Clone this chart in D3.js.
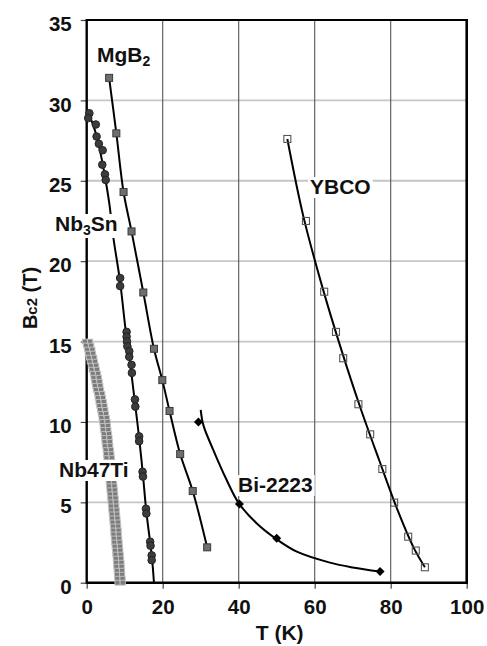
<!DOCTYPE html>
<html>
<head>
<meta charset="utf-8">
<script src="https://cdn.jsdelivr.net/npm/d3@7/dist/d3.min.js"></script>
<style>
  body { margin: 0; background: #fff; }
  svg text { font-family: "Liberation Sans", Arial, sans-serif; font-weight: bold; }
</style>
</head>
<body>
<svg width="487" height="646"></svg>
<script>
// values, T in K, Bc2 in T
var xTicks = [0, 20, 40, 60, 80, 100];
var yTicks = [0, 5, 10, 15, 20, 25, 30, 35];

var mgb2T = [5.9, 7.8, 9.7, 11.8, 14.9, 17.7, 19.9, 21.8, 24.6, 27.9, 31.7];
var mgb2B = [31.4, 27.95, 24.3, 21.85, 18.05, 14.55, 12.6, 10.68, 8.0, 5.7, 2.2];

var nb3snT = [0.7, 0.4, 2.4, 2.6, 3.2, 4.2, 4.1, 4.8, 5.0, 8.8, 8.8, 10.5, 10.5, 10.6, 10.7, 11.2, 11.2, 11.8, 11.9,
              12.7, 12.8, 13.8, 13.8, 14.7, 14.8, 15.6, 15.7, 16.7, 16.8, 17.1, 17.1];
var nb3snB = [29.2, 28.9, 28.5, 27.75, 27.3, 26.9, 26.0, 25.4, 25.05, 18.95, 18.45, 15.6, 15.3, 15.0, 14.7, 14.4, 14.05, 13.55, 13.05,
              11.4, 10.95, 9.1, 8.8, 6.9, 6.6, 4.6, 4.3, 2.55, 2.3, 1.7, 1.4];
var nb3snFitT = [0.4, 1.5, 2.8, 4.0, 5.0, 6.0, 7.0, 8.8, 10.2, 11.5, 12.8, 13.8, 14.8, 15.7, 16.7, 17.2, 17.7];
var nb3snFitB = [29.2, 28.6, 27.6, 26.3, 25.0, 23.5, 21.5, 18.7, 15.8, 13.5, 11.0, 9.0, 6.7, 4.4, 2.5, 1.5, 0];

var nb47tiB = [15, 14.75, 14.5, 14.25, 14, 13.75, 13.5, 13.25, 13, 12.75, 12.5, 12.25, 12, 11.75, 11.5, 11.25, 11, 10.75,
               10.5, 10.25, 10, 9.75, 9.5, 9.25, 9, 8.75, 8.5, 8.25, 8, 7.75, 7.5, 7.25, 7, 6.75, 6.5, 6.25, 6, 5.75,
               5.5, 5.25, 5, 4.75, 4.5, 4.25, 4, 3.75, 3.5, 3.25, 3, 2.75, 2.5, 2.25, 2, 1.75, 1.5, 1.25, 1, 0.75, 0.5, 0.25, 0];
var nb47tiT = [0.2, 0.5, 0.8, 1.0, 1.3, 1.5, 1.8, 2.0, 2.3, 2.5, 2.7, 2.9, 3.1, 3.4, 3.6, 3.8, 4.0, 4.2,
               4.4, 4.6, 4.8, 4.9, 5.0, 5.2, 5.3, 5.4, 5.5, 5.7, 5.8, 5.9, 6.0, 6.1, 6.2, 6.3, 6.4, 6.5, 6.6, 6.7,
               6.8, 6.9, 7.0, 7.1, 7.2, 7.3, 7.4, 7.5, 7.6, 7.7, 7.75, 7.85, 7.95, 8.05, 8.15, 8.25, 8.35, 8.45, 8.5, 8.6, 8.65, 8.75, 8.8];

var biT = [29.4, 40.2, 50.0, 77.2];
var biB = [10.0, 4.9, 2.76, 0.69];
var biFitT = [30.0, 30.7, 33.3, 36.8, 40.0, 44.7, 50.0, 55.3, 64.0, 70.0, 77.2];
var biFitB = [10.75, 9.8, 8.26, 6.4, 4.95, 3.7, 2.7, 1.93, 1.25, 0.95, 0.69];

var ybcoT = [52.8, 57.7, 62.5, 65.6, 67.5, 71.5, 74.6, 77.8, 80.9, 84.6, 86.6, 89.0];
var ybcoB = [27.6, 22.5, 18.1, 15.6, 13.96, 11.1, 9.23, 7.07, 4.98, 2.86, 2.0, 0.96];
var ybcoFitT = [52.8, 57.0, 62.0, 67.0, 72.0, 77.0, 82.0, 86.0, 89.0];
var ybcoFitB = [27.6, 22.8, 18.4, 14.5, 10.9, 7.6, 4.4, 2.2, 0.96];

function pairs(t, b) {
  return t.map(function(d, i) { return [d, b[i]]; });
}

var svg = d3.select("svg");
var pLeft = 86.7, pTop = 20, pRight = 466.7, pBottom = 582.7;

var x = d3.scaleLinear().domain([0, 100]).range([pLeft, pRight]);
var y = d3.scaleLinear().domain([0, 35]).range([pBottom, pTop]);

// grid
svg.append("g").selectAll("line")
  .data(yTicks.filter(function(d) { return d > 0 && d < 35; }))
  .enter().append("line")
  .attr("x1", pLeft).attr("x2", pRight)
  .attr("y1", function(d) { return y(d); }).attr("y2", function(d) { return y(d); })
  .attr("stroke", "#c6c6c6").attr("stroke-width", 1.8);

svg.append("g").selectAll("line")
  .data(xTicks.filter(function(d) { return d > 0 && d < 100; }))
  .enter().append("line")
  .attr("x1", function(d) { return x(d); }).attr("x2", function(d) { return x(d); })
  .attr("y1", pTop).attr("y2", pBottom)
  .attr("stroke", "#555").attr("stroke-width", 1.1);

// axes
var yAxis = d3.axisLeft(y).tickValues(yTicks).tickSize(6).tickPadding(9);
var xAxis = d3.axisBottom(x).tickValues(xTicks).tickSize(6).tickPadding(11);

var gy = svg.append("g").attr("transform", "translate(" + pLeft + ",0)").call(yAxis);
var gx = svg.append("g").attr("transform", "translate(0," + pBottom + ")").call(xAxis);
[gx, gy].forEach(function(g) {
  g.select(".domain").remove();
  g.selectAll(".tick line").attr("stroke", "#444").attr("stroke-width", 1.2);
  g.selectAll("text").attr("font-size", "20.5px").attr("fill", "#111")
   .style("font-family", "'Liberation Sans', Arial, sans-serif").style("font-weight", "bold");
});
gy.selectAll("text").attr("dy", "0.52em");

// frame
svg.append("line").attr("x1", pLeft).attr("x2", pRight).attr("y1", pTop).attr("y2", pTop)
  .attr("stroke", "#000").attr("stroke-width", 2.2);
svg.append("line").attr("x1", pRight).attr("x2", pRight).attr("y1", pTop - 1).attr("y2", pBottom + 1)
  .attr("stroke", "#000").attr("stroke-width", 2.6);
svg.append("line").attr("x1", pLeft).attr("x2", pRight + 1).attr("y1", pBottom).attr("y2", pBottom)
  .attr("stroke", "#000").attr("stroke-width", 2.4);
svg.append("line").attr("x1", pLeft).attr("x2", pLeft).attr("y1", pTop - 1).attr("y2", pBottom + 1)
  .attr("stroke", "#000").attr("stroke-width", 2.4);

// axis titles
svg.append("text").attr("x", (pLeft + pRight) / 2 + 3).attr("y", 640)
  .attr("text-anchor", "middle").attr("font-size", "21px").attr("fill", "#111").text("T (K)");

var yl = svg.append("text").attr("transform", "translate(37,298) rotate(-90)")
  .attr("text-anchor", "middle").attr("font-size", "20px").attr("fill", "#111");
yl.append("tspan").text("B");
yl.append("tspan").attr("font-size", "15px").text("c2");
yl.append("tspan").text(" (T)");

// curves
var line = d3.line().x(function(d) { return x(d[0]); }).y(function(d) { return y(d[1]); })
  .curve(d3.curveCatmullRom.alpha(0.5));

var curves = [pairs(mgb2T, mgb2B), pairs(nb3snFitT, nb3snFitB), pairs(biFitT, biFitB), pairs(ybcoFitT, ybcoFitB)];
svg.append("g").selectAll("path")
  .data(curves)
  .enter().append("path")
  .attr("d", line)
  .attr("fill", "none").attr("stroke", "#000").attr("stroke-width", 2);

// Nb47Ti stacked markers, drawn as two small squares side by side
var nbti = svg.append("g");
[-2.6, 2.6].forEach(function(off) {
  nbti.append("g").selectAll("rect")
    .data(pairs(nb47tiT, nb47tiB))
    .enter().append("rect")
    .attr("x", function(d) { return x(d[0]) + off - 2.6; })
    .attr("y", function(d) { return y(d[1]) - 2.4; })
    .attr("width", 5.2).attr("height", 4.8)
    .attr("fill", "#7c7c7c").attr("stroke", "#c2c2c2").attr("stroke-width", 0.9);
});

// MgB2 squares
svg.append("g").selectAll("rect")
  .data(pairs(mgb2T, mgb2B))
  .enter().append("rect")
  .attr("x", function(d) { return x(d[0]) - 3.5; })
  .attr("y", function(d) { return y(d[1]) - 3.5; })
  .attr("width", 7).attr("height", 7)
  .attr("fill", "#6e6e6e").attr("stroke", "#3a3a3a").attr("stroke-width", 1);

// Nb3Sn circles
svg.append("g").selectAll("circle")
  .data(pairs(nb3snT, nb3snB))
  .enter().append("circle")
  .attr("cx", function(d) { return x(d[0]); })
  .attr("cy", function(d) { return y(d[1]); })
  .attr("r", 3.8)
  .attr("fill", "#3c3c3c").attr("stroke", "#222").attr("stroke-width", 1);

// Bi-2223 diamonds
svg.append("g").selectAll("path")
  .data(pairs(biT, biB))
  .enter().append("path")
  .attr("transform", function(d) { return "translate(" + x(d[0]) + "," + y(d[1]) + ")"; })
  .attr("d", "M0,-4.5L4.5,0L0,4.5L-4.5,0Z")
  .attr("fill", "#000");

// YBCO open squares
svg.append("g").selectAll("rect")
  .data(pairs(ybcoT, ybcoB))
  .enter().append("rect")
  .attr("x", function(d) { return x(d[0]) - 3.5; })
  .attr("y", function(d) { return y(d[1]) - 3.5; })
  .attr("width", 7).attr("height", 7)
  .attr("fill", "none").attr("stroke", "#555").attr("stroke-width", 1.1);

// labels with white background
function label(px, py, parts) {
  var g = svg.append("g");
  var bg = g.append("rect").attr("fill", "#fff");
  var t = g.append("text").attr("x", px).attr("y", py).attr("font-size", "21px").attr("fill", "#111");
  parts.forEach(function(p) {
    var s = t.append("tspan").text(p[0]);
    if (p[1]) s.attr("font-size", "14px").attr("dy", "4");
    else if (p[2]) s.attr("dy", "-4");
  });
  var b = t.node().getBBox();
  bg.attr("x", b.x - 2).attr("y", b.y + 2).attr("width", b.width + 4).attr("height", b.height - 2);
}

label(97, 62, [["MgB"], ["2", true]]);
label(55, 231, [["Nb"], ["3", true], ["Sn", false, true]]);
label(59, 477, [["Nb47Ti"]]);
label(238, 492, [["Bi-2223"]]);
label(310, 194, [["YBCO"]]);
</script>
</body>
</html>
